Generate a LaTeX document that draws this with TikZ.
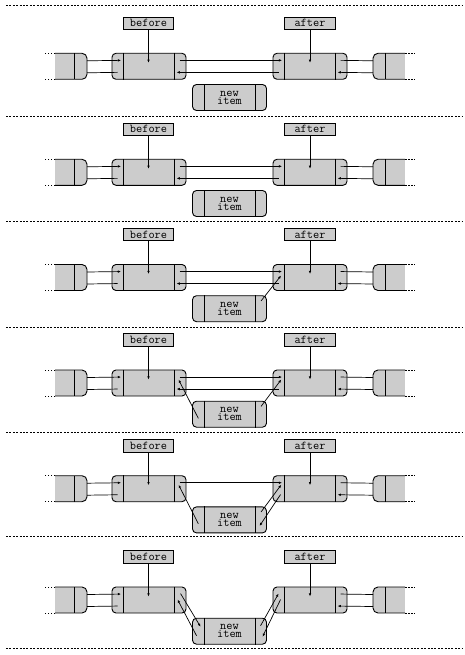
\documentclass[tikz,border=0pt]{standalone}
\usetikzlibrary{calc,arrows.meta}
\definecolor{cellgray}{gray}{0.8}
\tikzset{
 cell/.style={draw, fill=cellgray, rounded corners=4pt, minimum width=74pt, minimum height=26pt,
   inner sep=0pt, line width=0.9pt, font=\fontsize{12}{8}\selectfont\ttfamily, align=center},
 lbl/.style={draw, fill=cellgray, minimum width=50.5pt, minimum height=12.5pt, inner sep=0pt,
   line width=0.8pt, font=\fontsize{12}{12}\selectfont\ttfamily},
 holder/.style={inner sep=0pt, outer sep=0pt, minimum width=32pt, minimum height=26pt},
 ptr/.style={line width=0.7pt, -{Latex[length=3.2pt,width=2.6pt]}},
 lnk/.style={line width=0.7pt},
 sepline/.style={line width=0.8pt, dash pattern=on 2pt off 1.4pt},
 divider/.style={line width=0.9pt},
 endborder/.style={line width=0.9pt, rounded corners=5pt},
 stub/.style={line width=0.9pt, dash pattern=on 1.5pt off 1.5pt},
}
% dividers of a three-part cell
\newcommand\lkCell[1]{%
 \draw[divider] ([xshift=12pt]#1.north west) -- ([xshift=12pt]#1.south west);
 \draw[divider] ([xshift=-12pt]#1.north east) -- ([xshift=-12pt]#1.south east);
 \coordinate (#1no) at ($(#1.north west)+(68,7.5)$);
 \coordinate (#1ni) at ($(#1.north west)+(9.5,7.5)$);
 \coordinate (#1po) at ($(#1.north west)+(6,19.5)$);
 \coordinate (#1pi) at ($(#1.north west)+(65,19.5)$);
}
% one panel: #1 id, #2 top of the list cells
\newcommand\lkPanel[2]{%
 \node[lbl] (lb#1) at (148.5,{#2-30}) {before};
 \node[lbl] (la#1) at (310,{#2-30}) {after};
 \node[cell] (b#1) at (149,{#2+13}) {};
 \node[cell] (a#1) at (310,{#2+13}) {};
 \node[cell] (n#1) at (229.5,{#2+44.2}) {new\\item};
 \lkCell{b#1}\lkCell{a#1}\lkCell{n#1}
 % left end cell
 \node[holder] (l#1) at (71,{#2+13}) {};
 \fill[cellgray] (l#1.north west) rectangle ([xshift=-8pt]l#1.south east);
 \fill[cellgray, rounded corners=5pt] ([xshift=-16pt]l#1.north east) rectangle (l#1.south east);
 \draw[endborder] (l#1.north west) -- (l#1.north east) -- (l#1.south east) -- (l#1.south west);
 \draw[divider] ($(l#1.north west)+(19,0)$) -- ($(l#1.south west)+(19,0)$);
 \draw[stub] (l#1.north west) -- ++(-10,0);
 \draw[stub] (l#1.south west) -- ++(-10,0);
 % right end cell
 \node[holder] (r#1) at (389,{#2+13}) {};
 \fill[cellgray] ([xshift=8pt]r#1.north west) rectangle (r#1.south east);
 \fill[cellgray, rounded corners=5pt] (r#1.north west) rectangle ([xshift=16pt]r#1.south west);
 \draw[endborder] (r#1.north east) -- (r#1.north west) -- (r#1.south west) -- (r#1.south east);
 \draw[divider] ($(r#1.north west)+(12,0)$) -- ($(r#1.south west)+(12,0)$);
 \draw[stub] (r#1.north east) -- ++(10,0);
 \draw[stub] (r#1.south east) -- ++(10,0);
 % end links
 \coordinate (l#1no) at ($(l#1.north east)+(0,7.5)$);
 \coordinate (l#1pi) at ($(l#1.north east)+(0,19.5)$);
 \coordinate (r#1ni) at ($(r#1.north west)+(0,7.5)$);
 \coordinate (r#1po) at ($(r#1.north west)+(0,19.5)$);
 \draw[ptr] (l#1no) -- (b#1ni);
 \draw[lnk] (b#1po) -- (l#1pi);
 \draw[lnk] (a#1no) -- (r#1ni);
 \draw[ptr] (r#1po) -- (a#1pi);
 % name pointers
 \coordinate (bt#1) at (148.5,{#2+9.5});
 \coordinate (at#1) at (310,{#2+9.5});
 \draw[ptr] (lb#1.south) -- (bt#1);
 \draw[ptr] (la#1.south) -- (at#1);
}
\begin{document}
\begin{tikzpicture}[x=1pt,y=-1pt]
\useasboundingbox (0,0) rectangle (464,655);
\foreach \yy in {5,116,221.5,327,432.5,536.5,648}
  \draw[sepline] (6,\yy) -- (462,\yy);

% panel 1
\lkPanel{1}{53.3}
\draw[ptr] (b1no) -- (a1ni);
\draw[ptr] (a1po) -- (b1pi);

% panel 2
\lkPanel{2}{159.3}
\draw[ptr] (b2no) -- (a2ni);
\draw[ptr] (a2po) -- (b2pi);

% panel 3
\lkPanel{3}{264.5}
\draw[ptr] (b3no) -- (a3ni);
\draw[ptr] (a3po) -- (b3pi);
\coordinate (n3d) at ($(n3.north west)+(69,5.7)$);
\coordinate (a3d) at ($(a3.north west)+(8.5,11.5)$);
\draw[ptr] (n3d) -- (a3d);

% panel 4
\lkPanel{4}{370}
\draw[ptr] (b4no) -- (a4ni);
\draw[ptr] (a4po) -- (b4pi);
\coordinate (n4d) at ($(n4.north west)+(69,5.6)$);
\coordinate (a4d) at ($(a4.north west)+(8.7,10)$);
\coordinate (n4e) at ($(n4.north west)+(6.3,17.6)$);
\coordinate (b4e) at ($(b4.north west)+(67,10)$);
\draw[ptr] (n4d) -- (a4d);
\draw[ptr] (n4e) -- (b4e);

% panel 5
\lkPanel{5}{475.7}
\draw[ptr] (b5no) -- (a5ni);
\coordinate (n5d) at ($(n5.north west)+(69,5.5)$);
\coordinate (a5d) at ($(a5.north west)+(8.7,9.5)$);
\coordinate (n5e) at ($(n5.north west)+(6.3,17.3)$);
\coordinate (b5e) at ($(b5.north west)+(67,9.5)$);
\coordinate (a5f) at ($(a5.north west)+(8,19.3)$);
\coordinate (n5f) at ($(n5.north west)+(67.5,19.5)$);
\draw[ptr] (n5d) -- (a5d);
\draw[ptr] (n5e) -- (b5e);
\draw[ptr] (a5f) -- (n5f);

% panel 6
\lkPanel{6}{587}
\coordinate (b6d) at ($(b6.north west)+(69,7)$);
\coordinate (n6d) at ($(n6.north west)+(8.5,9)$);
\coordinate (n6e) at ($(n6.north west)+(4.5,18)$);
\coordinate (b6e) at ($(b6.north west)+(66,13)$);
\coordinate (n6f) at ($(n6.north west)+(68.5,8)$);
\coordinate (a6f) at ($(a6.north west)+(6,7)$);
\coordinate (a6g) at ($(a6.north west)+(8,13)$);
\coordinate (n6g) at ($(n6.north west)+(70.5,19)$);
\draw[ptr] (b6d) -- (n6d);
\draw[ptr] (n6e) -- (b6e);
\draw[ptr] (n6f) -- (a6f);
\draw[ptr] (a6g) -- (n6g);
\end{tikzpicture}
\end{document}
